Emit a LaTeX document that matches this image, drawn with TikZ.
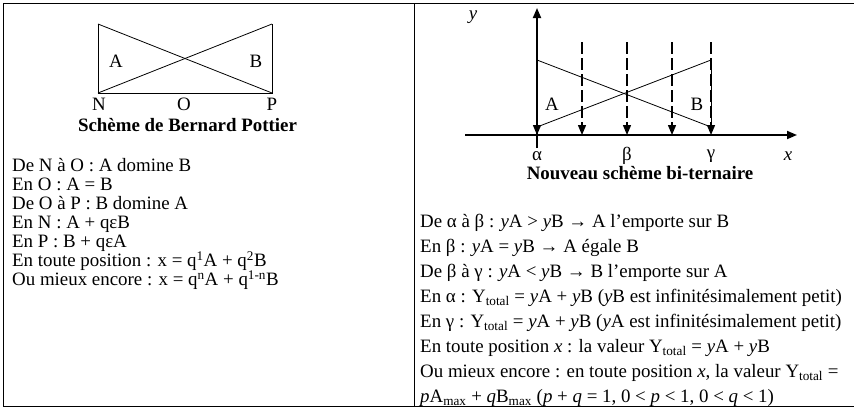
\documentclass[tikz,border=0pt]{standalone}
\usepackage{fontspec}
\setmainfont{Liberation Serif}
\usetikzlibrary{arrows.meta, positioning}

\begin{document}
\begin{tikzpicture}[
    x=1pt, y=-1pt,
    font=\fontsize{18.9}{22}\selectfont,
    node distance=19pt,
    frame/.style={line width=0.9pt},
    thinline/.style={line width=0.8pt},
    axis/.style={-{Triangle[length=10pt, width=8pt]}, line width=1.8pt},
    dropline/.style={-{Triangle[length=10pt, width=8pt]}, line width=1.4pt,
      dash pattern=on 12pt off 4pt},
    ptlabel/.style={inner sep=0pt},
    caption/.style={inner sep=0pt, font=\fontsize{18.9}{22}\selectfont\bfseries},
    txtline/.style={anchor=west, inner sep=0pt, text height=13pt, text depth=4pt},
  ]
    \useasboundingbox (0,0) rectangle (854,408);

    % Table frame
    \draw[frame] (3,3) -- (854,3);
    \draw[frame] (3,406) -- (854,406);
    \draw[frame] (3,3) -- (3,406);
    \draw[frame] (414.5,3) -- (414.5,406);

    % Pottier's scheme
    \coordinate (nTop) at (98,24);
    \coordinate (nBot) at (98,93);
    \coordinate (pTop) at (272,24);
    \coordinate (pBot) at (272,93);
    \draw[thinline] (nTop) -- (nBot) -- (pBot) -- (pTop);
    \draw[thinline] (nTop) -- (pBot);
    \draw[thinline] (nBot) -- (pTop);
    \node[ptlabel] (lA) at (116,61) {A};
    \node[ptlabel] (lB) at (256,61) {B};
    \node[ptlabel] (lN) at (99,104) {N};
    \node[ptlabel] (lO) at (184,104) {O};
    \node[ptlabel] (lP) at (272,104) {P};
    \node[caption] (capL) at (187.5,125) {Schème de Bernard Pottier};

    \node[txtline] (l1) at (12,167) {De N à O : A domine B};
    \node[txtline, below=of l1.west, anchor=west] (l2) {En O : A = B};
    \node[txtline, below=of l2.west, anchor=west] (l3) {De O à P : B domine A};
    \node[txtline, below=of l3.west, anchor=west] (l4) {En N : A + qεB};
    \node[txtline, below=of l4.west, anchor=west] (l5) {En P : B + qεA};
    \node[txtline, below=of l5.west, anchor=west] (l6)
      {En toute position : x = q\textsuperscript{1}A + q\textsuperscript{2}B};
    \node[txtline, below=of l6.west, anchor=west] (l7)
      {Ou mieux encore : x = q\textsuperscript{n}A + q\textsuperscript{1-n}B};

    % Bi-ternary scheme
    \coordinate (yBot) at (537,148);
    \coordinate (yTop) at (537,8);
    \coordinate (xLeft) at (465,135);
    \coordinate (xRight) at (797,135);
    \foreach \k/\xx in {0/537, 1/582, 2/627, 3/672, 4/711} {
      \coordinate (t\k) at (\xx,42);
      \coordinate (b\k) at (\xx,135);
    }
    \foreach \k in {0,...,4} {
      \draw[dropline] (t\k) -- (b\k);
    }
    \coordinate (aTop) at (537,60);
    \coordinate (aBot) at (537,127);
    \coordinate (gTop) at (711,60);
    \coordinate (gBot) at (711,127);
    \draw[thinline] (aTop) -- (gBot);
    \draw[thinline] (aBot) -- (gTop);
    \draw[thinline] (gTop) -- (gBot);
    \draw[axis] (yBot) -- (yTop);
    \draw[axis] (xLeft) -- (xRight);

    \node[ptlabel] (ly) at (473,17) {\textit{y}};
    \node[ptlabel] (rA) at (552,104) {A};
    \node[ptlabel] (rB) at (697,104) {B};
    \node[ptlabel] (lal) at (537,156) {α};
    \node[ptlabel] (lbe) at (627,156) {β};
    \node[ptlabel] (lga) at (711,156) {γ};
    \node[ptlabel] (lx) at (788,156) {\textit{x}};
    \node[caption] (capR) at (640,173) {Nouveau schème bi-ternaire};

    \begin{scope}[node distance=25pt]
      \node[txtline] (r1) at (420,223)
        {De α à β : \textit{y}A > \textit{y}B → A l’emporte sur B};
      \node[txtline, below=of r1.west, anchor=west] (r2)
        {En β : \textit{y}A = \textit{y}B → A égale B};
      \node[txtline, below=of r2.west, anchor=west] (r3)
        {De β à γ : \textit{y}A < \textit{y}B → B l’emporte sur A};
      \node[txtline, below=of r3.west, anchor=west] (r4)
        {En α : Y\textsubscript{total} = \textit{y}A + \textit{y}B (\textit{y}B est infinitésimalement petit)};
      \node[txtline, below=of r4.west, anchor=west] (r5)
        {En γ : Y\textsubscript{total} = \textit{y}A + \textit{y}B (\textit{y}A est infinitésimalement petit)};
      \node[txtline, below=of r5.west, anchor=west] (r6)
        {En toute position \textit{x} : la valeur Y\textsubscript{total} = \textit{y}A + \textit{y}B};
      \node[txtline, below=of r6.west, anchor=west] (r7)
        {Ou mieux encore : en toute position \textit{x}, la valeur Y\textsubscript{total} =};
      \node[txtline, below=of r7.west, anchor=west] (r8)
        {\textit{p}A\textsubscript{max} + \textit{q}B\textsubscript{max} (\textit{p} + \textit{q} = 1, 0 < \textit{p} < 1, 0 < \textit{q} < 1)};
    \end{scope}
\end{tikzpicture}
\end{document}
